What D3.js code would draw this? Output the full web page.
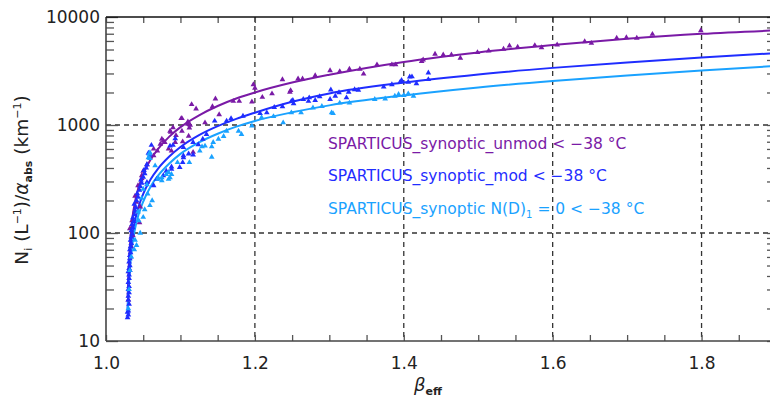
<!DOCTYPE html>
<html>
<head>
<meta charset="utf-8">
<script src="https://cdn.jsdelivr.net/npm/d3@7"></script>
<style>
  html, body { margin: 0; padding: 0; background: #fff; }
  svg { display: block; }
  text { font-family: "DejaVu Sans", "Liberation Sans", sans-serif; }
</style>
</head>
<body>
<script>
// ---------------- DATA ----------------
const seriesNames = ["unmod", "mod", "nd1"];
const legendLabels = [
  "SPARTICUS_synoptic_unmod < \u221238 \u00B0C",
  "SPARTICUS_synoptic_mod < \u221238 \u00B0C",
  "SPARTICUS_synoptic N(D)"
];
const colors = ["#7a1aa6", "#1f2dff", "#1aa2ff"];

const xMajorTicks = [1.0, 1.2, 1.4, 1.6, 1.8];
const xTickLabels = ["1.0", "1.2", "1.4", "1.6", "1.8"];
const yMajorTicks = [10, 100, 1000, 10000];
const yTickLabels = ["10", "100", "1000", "10000"];
const xGrid = [1.2, 1.4, 1.6, 1.8];
const yGrid = [100, 1000];

// fitted curves [beta_eff, Ni/alpha]
const curveUnmod = [[1.029,25],[1.030,40],[1.032,75],[1.035,130],[1.040,210],[1.050,350],[1.060,480],[1.070,600],[1.085,780],[1.100,955],[1.125,1230],[1.150,1500],[1.175,1760],[1.200,2000],[1.250,2470],[1.300,2920],[1.400,3840],[1.500,4700],[1.600,5500],[1.700,6280],[1.800,6980],[1.900,7520]];
const curveMod = [[1.029,20],[1.030,30],[1.032,52],[1.035,88],[1.040,140],[1.050,230],[1.060,315],[1.070,395],[1.085,510],[1.100,625],[1.125,805],[1.150,975],[1.175,1140],[1.200,1300],[1.250,1640],[1.300,1960],[1.400,2470],[1.500,2940],[1.600,3380],[1.700,3800],[1.800,4220],[1.900,4630]];
const curveNd1 = [[1.029,18],[1.030,26],[1.032,45],[1.035,75],[1.040,118],[1.050,195],[1.060,270],[1.070,340],[1.085,440],[1.100,540],[1.125,690],[1.150,830],[1.175,965],[1.200,1090],[1.250,1310],[1.300,1520],[1.400,1880],[1.500,2230],[1.600,2560],[1.700,2880],[1.800,3200],[1.900,3520]];

// scatter points [beta_eff, Ni/alpha]
const pointsUnmod = [[1.030,24],[1.032,45],[1.033,60],[1.034,75],[1.036,95],[1.032,110],[1.035,130],[1.045,125],[1.039,157],[1.046,175],[1.041,193],[1.039,220],[1.043,275],[1.048,320],[1.048,340],[1.050,375],[1.055,430],[1.059,500],[1.064,520],[1.064,600],[1.069,575],[1.073,665],[1.075,740],[1.077,715],[1.079,690],[1.084,600],[1.088,575],[1.093,690],[1.086,880],[1.087,860],[1.090,945],[1.094,800],[1.101,1150],[1.102,1150],[1.110,1070],[1.113,1000],[1.115,1550],[1.121,1410],[1.133,1050],[1.143,1480],[1.147,1750],[1.152,1250],[1.102,880],[1.111,790],[1.103,700],[1.117,560],[1.110,1020],[1.112,940],[1.171,1660],[1.179,1660],[1.196,1640],[1.198,2370],[1.200,2200],[1.210,1810],[1.223,1950],[1.237,2630],[1.247,2020],[1.248,2090],[1.258,2680],[1.264,2680],[1.281,2870],[1.301,3190],[1.314,3130],[1.327,3300],[1.341,3300],[1.346,2970],[1.364,3620],[1.384,3620],[1.389,3620],[1.424,3880],[1.426,4020],[1.442,4540],[1.453,4470],[1.464,4470],[1.476,4170],[1.499,4700],[1.514,4870],[1.534,5050],[1.542,5410],[1.553,5260],[1.576,5450],[1.585,5220],[1.606,5520],[1.643,5930],[1.652,5720],[1.686,6370],[1.699,6460],[1.713,6370],[1.734,6930],[1.799,7490]];
const pointsMod = [[1.029,16.5],[1.030,17.5],[1.029,18.5],[1.030,19],[1.031,22],[1.030,24],[1.030,26],[1.031,28],[1.030,30],[1.031,32],[1.030,35],[1.031,38],[1.031,41],[1.030,44],[1.031,47],[1.032,50],[1.031,54],[1.032,58],[1.032,62],[1.033,66],[1.032,70],[1.033,75],[1.034,80],[1.033,86],[1.034,92],[1.035,98],[1.034,105],[1.036,112],[1.035,120],[1.037,128],[1.036,138],[1.038,148],[1.039,160],[1.040,172],[1.038,185],[1.041,200],[1.043,215],[1.042,232],[1.045,250],[1.046,270],[1.048,290],[1.055,295],[1.064,275],[1.068,315],[1.047,310],[1.050,330],[1.077,340],[1.081,375],[1.088,410],[1.052,355],[1.051,380],[1.054,400],[1.055,430],[1.057,550],[1.059,530],[1.061,650],[1.086,640],[1.088,390],[1.090,650],[1.093,750],[1.099,405],[1.103,450],[1.104,520],[1.104,620],[1.104,500],[1.111,540],[1.117,530],[1.117,690],[1.124,660],[1.130,740],[1.135,820],[1.146,1090],[1.162,1090],[1.168,1150],[1.184,1210],[1.207,1280],[1.216,1300],[1.226,1460],[1.237,1480],[1.249,1660],[1.251,1690],[1.252,1580],[1.265,1730],[1.272,1660],[1.273,1790],[1.281,1690],[1.287,1830],[1.301,1730],[1.302,2120],[1.308,1850],[1.313,2000],[1.323,1790],[1.326,2020],[1.334,2130],[1.339,2100],[1.373,2250],[1.384,2370],[1.395,2490],[1.397,2590],[1.406,2500],[1.408,2790],[1.411,2800],[1.417,2420],[1.433,3040],[1.433,2640]];
const pointsNd1 = [[1.030,20],[1.031,30],[1.032,45],[1.034,60],[1.038,70],[1.039,86],[1.041,77],[1.046,100],[1.043,157],[1.044,130],[1.050,140],[1.052,165],[1.059,180],[1.050,255],[1.056,230],[1.048,210],[1.062,200],[1.055,280],[1.057,500],[1.058,540],[1.059,490],[1.059,555],[1.066,420],[1.070,325],[1.070,315],[1.075,325],[1.075,305],[1.081,350],[1.084,365],[1.084,315],[1.086,325],[1.088,350],[1.096,450],[1.112,450],[1.126,575],[1.129,630],[1.133,640],[1.142,630],[1.142,505],[1.144,690],[1.151,740],[1.158,785],[1.162,880],[1.178,880],[1.182,820],[1.196,980],[1.209,1170],[1.225,1200],[1.238,1050],[1.249,1300],[1.262,1300],[1.278,1440],[1.290,1490],[1.303,1300],[1.305,1280],[1.314,1600],[1.327,1600],[1.361,1730],[1.375,1750],[1.388,1850],[1.393,1920],[1.400,1880],[1.406,1950],[1.413,1850]];

const curves = [curveUnmod, curveMod, curveNd1];
const pointSets = [pointsUnmod, pointsMod, pointsNd1];

// ---------------- DRAWING ----------------
const W = 770, H = 397;
const svg = d3.select("body").append("svg").attr("width", W).attr("height", H);

const x = d3.scaleLinear().domain([1.0, 1.9]).range([106, 776]);
const y = d3.scaleLog().domain([10, 10000]).range([341, 17]);
const [x0, x1] = x.range();
const [yb, yt] = y.range();

// gridlines
const grid = svg.append("g").attr("stroke", "#333").attr("stroke-width", 1.3).attr("stroke-dasharray", "5,4");
grid.selectAll("line.v").data(xGrid).join("line")
  .attr("x1", d => x(d)).attr("x2", d => x(d)).attr("y1", yt).attr("y2", yb);
grid.selectAll("line.h").data(yGrid).join("line")
  .attr("x1", x0).attr("x2", x1).attr("y1", d => y(d)).attr("y2", d => y(d));

// curves
const line = d3.line().x(d => x(d[0])).y(d => y(d[1])).curve(d3.curveMonotoneX);
curves.forEach((c, i) => {
  svg.append("path").datum(c).attr("d", line)
    .attr("fill", "none").attr("stroke", colors[i]).attr("stroke-width", 2);
});

// points
const tri = d3.symbol().type(d3.symbolTriangle).size(14);
pointSets.forEach((pts, i) => {
  svg.append("g").selectAll("path").data(pts).join("path")
    .attr("d", tri)
    .attr("transform", d => `translate(${x(d[0])},${y(d[1])})`)
    .attr("fill", colors[i]);
});

// axes
const yMinor = [];
[10, 100, 1000].forEach(d => { for (let m = 2; m <= 9; m++) yMinor.push(d * m); });
const xMinor = d3.range(1.0, 1.9001, 0.05).map(v => +v.toFixed(2));

const axisStyle = g => {
  g.select(".domain").remove();
  g.selectAll(".tick line").attr("stroke", "#555").attr("stroke-width", 1.3);
  g.selectAll("text").attr("font-size", 17).attr("fill", "#222").attr("font-family", "DejaVu Sans, sans-serif");
};

// left
svg.append("g").attr("transform", `translate(${x0},0)`)
  .call(d3.axisLeft(y).tickValues(yMinor).tickSize(-8).tickFormat(""))
  .call(axisStyle);
svg.append("g").attr("transform", `translate(${x0},0)`)
  .call(d3.axisLeft(y).tickValues(yMajorTicks).tickSize(-12).tickPadding(6)
        .tickFormat((d, i) => yTickLabels[i]))
  .call(axisStyle);
// right
svg.append("g").attr("transform", `translate(${x1},0)`)
  .call(d3.axisRight(y).tickValues(yMinor.concat(yMajorTicks)).tickSize(-9).tickFormat(""))
  .call(axisStyle);
// bottom
svg.append("g").attr("transform", `translate(0,${yb})`)
  .call(d3.axisBottom(x).tickValues(xMinor).tickSize(-6).tickFormat(""))
  .call(axisStyle);
svg.append("g").attr("transform", `translate(0,${yb})`)
  .call(d3.axisBottom(x).tickValues(xMajorTicks).tickSize(0).tickPadding(16)
        .tickFormat((d, i) => xTickLabels[i]))
  .call(axisStyle);
// top
svg.append("g").attr("transform", `translate(0,${yt})`)
  .call(d3.axisTop(x).tickValues(xMinor).tickSize(-6).tickFormat(""))
  .call(axisStyle);

// frame lines
const frame = svg.append("g").attr("stroke", "#444").attr("stroke-width", 1.6);
frame.append("line").attr("x1", x0).attr("x2", x0).attr("y1", yt).attr("y2", yb);
frame.append("line").attr("x1", x0).attr("x2", x1).attr("y1", yb).attr("y2", yb);
frame.append("line").attr("x1", x0).attr("x2", x1).attr("y1", yt).attr("y2", yt).attr("stroke", "#111");

// legend
const legY = [149, 181, 214];
legendLabels.forEach((t, i) => {
  const tx = svg.append("text").attr("x", 328).attr("y", legY[i])
    .attr("font-size", 15.5).attr("fill", colors[i]).text(t);
  if (i === 2) {
    tx.append("tspan").attr("font-size", 10).attr("dy", 4).text("1");
    tx.append("tspan").attr("dy", -4).text(" = 0 < \u221238 \u00B0C");
  }
});

// axis titles
const yt0 = svg.append("text").attr("transform", "translate(28,180) rotate(-90)")
  .attr("text-anchor", "middle").attr("font-size", 18.5).attr("fill", "#222");
yt0.append("tspan").text("N");
yt0.append("tspan").attr("font-size", 11).attr("dy", 4).text("i");
yt0.append("tspan").attr("dy", -4).text(" (L");
yt0.append("tspan").attr("font-size", 11).attr("dy", -7).text("\u22121");
yt0.append("tspan").attr("dy", 7).text(")/");
yt0.append("tspan").attr("font-style", "italic").text("\u03B1");
yt0.append("tspan").attr("font-size", 11).attr("dy", 4).attr("font-weight", "bold").text("abs");
yt0.append("tspan").attr("dy", -4).text(" (km");
yt0.append("tspan").attr("font-size", 11).attr("dy", -7).text("\u22121");
yt0.append("tspan").attr("dy", 7).text(")");

const xt = svg.append("text").attr("x", 428).attr("y", 391)
  .attr("text-anchor", "middle").attr("font-size", 18).attr("fill", "#222");
xt.append("tspan").attr("font-style", "italic").text("\u03B2");
xt.append("tspan").attr("font-size", 11).attr("dy", 4).attr("font-weight", "bold").text("eff");
</script>
</body>
</html>
